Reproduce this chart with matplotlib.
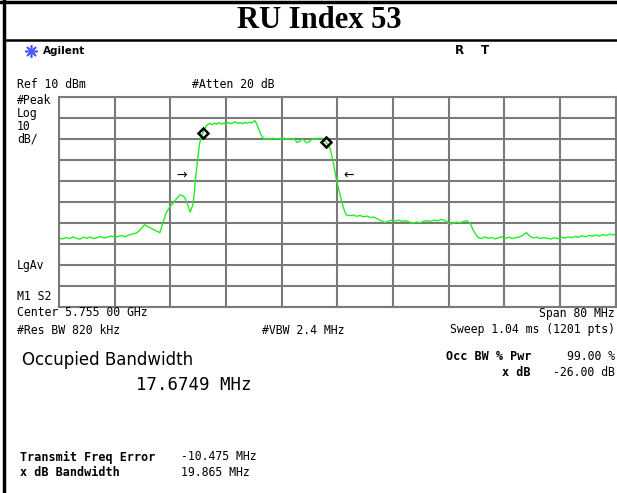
import matplotlib.pyplot as plt
import numpy as np

W, H = 617, 493

center_mhz = 5755.0
span_mhz = 80.0
ref_dbm = 10
db_per_div = 10

# trace: (offset from centre in MHz, level in dBm)
trace_pts = [
    (-40, -57.3), (-39.5, -57.8), (-39, -57.1), (-38.5, -57.6), (-38, -56.8),
    (-37.5, -57.5), (-37, -57.9), (-36.5, -57.0), (-36, -57.4), (-35.5, -56.9),
    (-35, -57.6), (-34.5, -57.1), (-34, -56.7), (-33.5, -57.3), (-33, -56.9),
    (-32.5, -56.4), (-32, -57.0), (-31.5, -56.6), (-31, -56.2), (-30.5, -56.8),
    (-30, -56.0), (-29.4, -55.4), (-28.8, -54.9), (-28.2, -53.0), (-27.7, -51.0),
    (-27.3, -51.8), (-26.9, -52.4), (-26.4, -53.4), (-25.9, -54.2), (-25.5, -54.8),
    (-25.1, -50.5), (-24.6, -45.5), (-24.1, -42.6), (-23.5, -40.3), (-22.9, -37.8),
    (-22.6, -36.8), (-22.2, -37.2), (-21.9, -38.3), (-21.5, -41.5), (-21.15, -45.0),
    (-20.8, -42.0), (-20.6, -38.0), (-20.4, -30.0), (-20.1, -21.0), (-19.8, -12.5),
    (-19.5, -8.5), (-19.1, -5.5), (-18.7, -3.4), (-18.3, -2.7), (-18.0, -3.3),
    (-17.6, -2.6), (-17.3, -3.1), (-17.0, -2.4), (-16.6, -3.0), (-16.3, -2.5),
    (-16.0, -3.2), (-15.6, -2.3), (-15.3, -2.9), (-15.0, -2.4), (-14.6, -2.0),
    (-14.3, -2.8), (-14.0, -2.3), (-13.6, -2.9), (-13.3, -2.2), (-13.0, -2.7),
    (-12.6, -2.1), (-12.3, -2.6), (-12.0, -1.8), (-11.85, -1.4), (-11.6, -2.8),
    (-11.3, -5.5), (-10.9, -8.5), (-10.5, -10.3), (-10.1, -9.9), (-9.7, -10.2),
    (-9.3, -9.8), (-8.9, -10.1), (-8.5, -9.9), (-8.1, -10.2), (-7.7, -9.8),
    (-7.3, -10.1), (-6.9, -9.9), (-6.5, -10.4), (-6.2, -10.0), (-5.8, -11.8),
    (-5.4, -11.3), (-5.0, -10.1), (-4.7, -11.0), (-4.4, -12.0), (-4.0, -11.4),
    (-3.6, -10.1), (-3.1, -10.4), (-2.6, -9.8), (-2.2, -9.9), (-1.8, -11.0),
    (-1.4, -12.5), (-1.0, -15.0), (-0.6, -21.0), (-0.2, -28.0), (0.2, -34.0),
    (0.6, -39.5), (1.0, -44.0), (1.3, -46.3), (1.8, -46.7), (2.3, -46.4),
    (2.8, -47.0), (3.3, -46.6), (3.8, -47.3), (4.3, -46.9), (4.8, -47.6),
    (5.3, -47.4), (5.8, -48.3), (6.3, -49.2), (6.9, -50.0), (7.4, -49.3),
    (7.9, -48.8), (8.4, -49.2), (8.9, -48.9), (9.4, -49.5), (9.9, -49.1),
    (10.4, -49.8), (10.9, -50.4), (11.4, -49.7), (11.9, -50.1), (12.4, -49.4),
    (12.9, -49.0), (13.4, -49.5), (13.9, -48.8), (14.4, -49.2), (14.9, -48.5),
    (15.4, -49.0), (15.8, -49.6), (16.2, -50.8), (16.7, -50.2), (17.2, -49.8),
    (17.7, -50.1), (18.2, -49.4), (18.6, -49.1), (19.1, -50.3), (19.6, -54.0),
    (20.2, -57.0), (20.7, -57.6), (21.2, -56.9), (21.7, -57.5), (22.2, -57.1),
    (22.7, -57.8), (23.2, -57.2), (23.7, -56.8), (24.2, -57.5), (24.7, -57.0),
    (25.2, -57.6), (25.7, -57.1), (26.2, -56.9), (26.6, -56.2), (27.2, -54.8),
    (27.7, -56.5), (28.2, -57.3), (28.7, -56.9), (29.2, -57.6), (29.7, -57.1),
    (30.2, -57.5), (30.7, -57.8), (31.2, -57.2), (31.7, -57.6), (32.2, -57.0),
    (32.7, -57.4), (33.2, -56.8), (33.7, -57.2), (34.2, -56.6), (34.7, -57.0),
    (35.2, -56.3), (35.7, -56.8), (36.2, -56.1), (36.7, -56.5), (37.2, -55.9),
    (37.7, -56.4), (38.2, -55.7), (38.7, -56.2), (39.2, -55.5), (39.6, -55.9),
    (40, -55.6),
]
trace_f = [p[0] for p in trace_pts]
trace_db = [p[1] for p in trace_pts]

# measurement results
occ_bw_mhz = 17.6749
freq_err_mhz = -10.475
xdb_bw_mhz = 19.865
xdb = -26.00


def fx(x):
    return x / W


def fy(y):
    return 1 - y / H


fig = plt.figure(figsize=(W / 100, H / 100), dpi=100)

# frame and title
fig.add_artist(plt.Line2D([fx(3.5), fx(3.5)], [0, 1], color='black', lw=2.5))
fig.add_artist(plt.Line2D([0, 1], [fy(1.5), fy(1.5)], color='black', lw=2.5))
fig.add_artist(plt.Line2D([fx(3.5), 1], [fy(40), fy(40)], color='black', lw=1.8))
fig.text(fx(319), fy(21), 'RU Index 53', family='Liberation Serif', weight='bold',
         size=22, ha='center', va='center')

# analyser header
fig.add_artist(plt.Line2D([fx(31)], [fy(51)], marker=(8, 2, 0), ms=9, mew=1.2,
                          color='#4a5cff'))
fig.text(fx(43), fy(51), 'Agilent', family='DejaVu Sans', weight='bold', size=7.5,
         va='center')
fig.text(fx(455), fy(51), 'R', family='DejaVu Sans', weight='bold', size=8.5, va='center')
fig.text(fx(481), fy(51), 'T', family='DejaVu Sans', weight='bold', size=8.5, va='center')

mono = dict(family='DejaVu Sans Mono', size=8.3, va='center')
fig.text(fx(17), fy(85), f'Ref {ref_dbm} dBm', **mono)
fig.text(fx(192), fy(85), '#Atten 20 dB', **mono)
for txt, y in [('#Peak', 100), ('Log', 113), (f'{db_per_div}', 126), ('dB/', 139),
               ('LgAv', 266), ('M1 S2', 297)]:
    fig.text(fx(17), fy(y), txt, **mono)

# trace area
ax = fig.add_axes([fx(59), fy(306.5), fx(615.5) - fx(59), fy(96.7) - fy(306.5)])
f_abs = center_mhz + np.array(trace_f)
ax.plot(f_abs, trace_db, color='#22ee22', lw=1.0)
ax.set_xlim(center_mhz - span_mhz / 2, center_mhz + span_mhz / 2)
ax.set_ylim(ref_dbm - 10 * db_per_div, ref_dbm)
ax.set_xticks(np.linspace(center_mhz - span_mhz / 2, center_mhz + span_mhz / 2, 11))
ax.set_yticks(np.arange(ref_dbm - 10 * db_per_div, ref_dbm + 1, db_per_div))
ax.grid(True, color='#7a7a7a', lw=1.5)
ax.tick_params(length=0, labelbottom=False, labelleft=False)
for s in ax.spines.values():
    s.set_color('#7a7a7a')
    s.set_linewidth(1.5)

# occupied bandwidth markers
obw_edges = [center_mhz + freq_err_mhz - occ_bw_mhz / 2,
             center_mhz + freq_err_mhz + occ_bw_mhz / 2]
ax.plot(obw_edges, np.interp(obw_edges, f_abs, trace_db), ls='none', marker='D',
        ms=5.5, mfc='none', mec='black', mew=1.8, zorder=5)

# x dB bandwidth arrows
arrow_lvl = max(trace_db) + xdb
left_edge = center_mhz + freq_err_mhz - xdb_bw_mhz / 2
right_edge = center_mhz + freq_err_mhz + xdb_bw_mhz / 2
ax.annotate('→', xy=(left_edge, arrow_lvl), xytext=(-6, 0), textcoords='offset points',
            ha='right', va='center', size=9)
ax.annotate('←', xy=(right_edge, arrow_lvl), xytext=(7, 0), textcoords='offset points',
            ha='left', va='center', size=9)

# footer settings
fig.text(fx(17), fy(313), f'Center {center_mhz / 1000:.3f} 00 GHz', **mono)
fig.text(fx(615), fy(313), f'Span {span_mhz:.0f} MHz', ha='right', **mono)
fig.text(fx(17), fy(330), '#Res BW 820 kHz', **mono)
fig.text(fx(262), fy(330), '#VBW 2.4 MHz', **mono)
fig.text(fx(615), fy(330), 'Sweep 1.04 ms (1201 pts)', ha='right', **mono)

# results
fig.text(fx(22), fy(360), 'Occupied Bandwidth', family='DejaVu Sans', size=12, va='center')
fig.text(fx(136), fy(385), f'{occ_bw_mhz:.4f} MHz', family='DejaVu Sans Mono', size=12.5,
         va='center')
bold = dict(family='DejaVu Sans Mono', weight='bold', size=8.5, va='center')
fig.text(fx(531), fy(357), 'Occ BW % Pwr', ha='right', **bold)
fig.text(fx(615), fy(357), '99.00 %', ha='right', **mono)
fig.text(fx(531), fy(373), 'x dB', ha='right', **bold)
fig.text(fx(615), fy(373), f'{xdb:.2f} dB', ha='right', **mono)
fig.text(fx(20), fy(457), 'Transmit Freq Error', **bold)
fig.text(fx(181), fy(457), f'{freq_err_mhz:.3f} MHz', **mono)
fig.text(fx(20), fy(472), 'x dB Bandwidth', **bold)
fig.text(fx(181), fy(472), f'{xdb_bw_mhz:.3f} MHz', **mono)

fig.savefig('out.png', dpi=100)
